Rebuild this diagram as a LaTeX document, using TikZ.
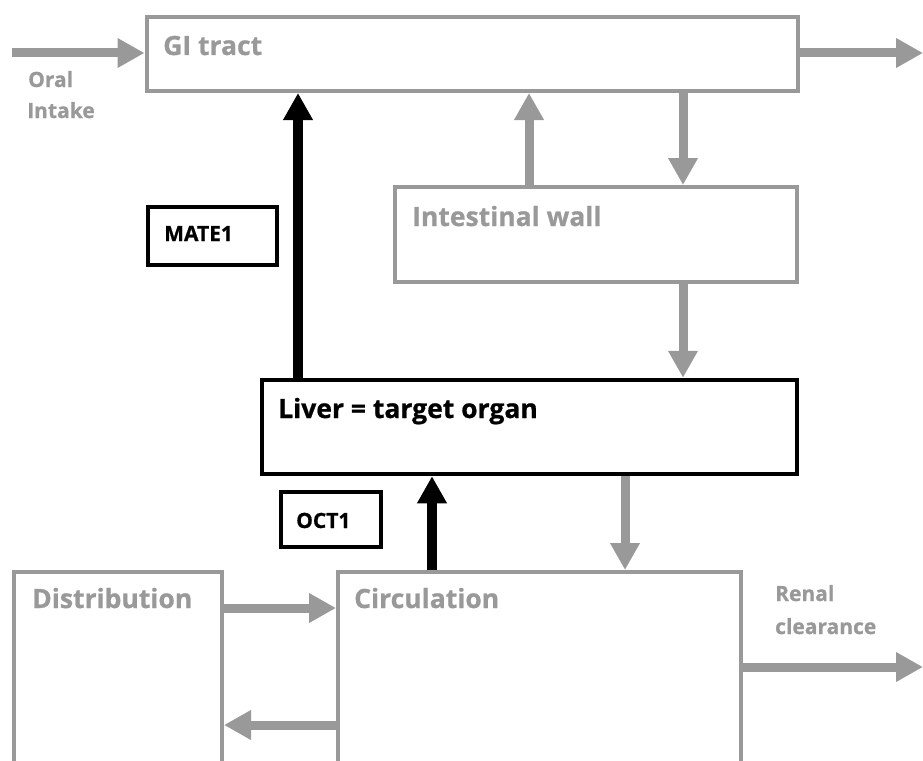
\documentclass[tikz,border=0pt]{standalone}
\usepackage{fontspec}
\setmainfont{Open Sans}[BoldFeatures={FakeBold=0.8}]
\usetikzlibrary{arrows.meta}
\definecolor{flowgray}{RGB}{153,153,153}
\tikzset{
  gbox/.style={draw=flowgray, line width=4pt, rectangle, inner sep=0pt},
  kbox/.style={draw=black, line width=4.5pt, rectangle, inner sep=0pt},
  gflow/.style={draw=flowgray, line width=9pt, -{Triangle[length=27pt,width=28pt]}},
  kflow/.style={draw=black, line width=10pt, -{Triangle[length=27pt,width=28pt]}},
  bigtxt/.style={anchor=base west, inner sep=0pt, font=\bfseries\fontsize{26.5}{30}\selectfont},
  smalltxt/.style={anchor=base west, inner sep=0pt, font=\bfseries\fontsize{21}{25}\selectfont},
}
\begin{document}
\begin{tikzpicture}[x=1pt, y=-1pt]
\useasboundingbox (0,0) rectangle (923,760);
\clip (0,0) rectangle (923,760);

% compartments
\node[gbox, minimum width=651pt, minimum height=74pt]  (gi)    at (472,54) {};
\node[gbox, minimum width=402pt, minimum height=95pt]  (wall)  at (596,234.5) {};
\node[kbox, minimum width=535pt, minimum height=94pt]  (liver) at (529.5,427) {};
\node[kbox, minimum width=129pt, minimum height=58pt]  (mate)  at (212.5,236) {};
\node[kbox, minimum width=100pt, minimum height=55pt]  (oct)   at (331,519.5) {};
\node[gbox, minimum width=208pt, minimum height=228pt] (dist)  at (118,686) {};
\node[gbox, minimum width=403pt, minimum height=228pt] (circ)  at (539.5,686) {};

% labels
\node[bigtxt, text=flowgray] (tgi)    at (163,55)  {GI tract};
\node[bigtxt, text=flowgray] (twall)  at (412,226) {Intestinal wall};
\node[bigtxt]                (tliver) at (278,418) {Liver = target organ};
\node[bigtxt, text=flowgray] (tdist)  at (32,608)  {Distribution};
\node[bigtxt, text=flowgray] (tcirc)  at (354,608) {Circulation};
\node[smalltxt]              (tmate)  at (164,241) {MATE1};
\node[smalltxt]              (toct)   at (296,528) {OCT1};
\node[smalltxt, text=flowgray] (toral)  at (28,87)   {Oral};
\node[smalltxt, text=flowgray] (tintk)  at (27,118)  {Intake};
\node[smalltxt, text=flowgray] (trenal) at (775,601) {Renal};
\node[smalltxt, text=flowgray] (tclear) at (775,634) {clearance};

% free ends and columns of the vertical flows
\coordinate (oral)  at (12,53);
\coordinate (gout)  at (923,53);
\coordinate (renal) at (923,667);
\coordinate (xup)   at (529,0);
\coordinate (xdn)   at (683,0);
\coordinate (xmate) at (298,0);
\coordinate (xoct)  at (432,0);
\coordinate (xlc)   at (625,0);
\coordinate (yin)   at (0,608);
\coordinate (yback) at (0,725);

% flows
\draw[gflow] (oral) -- (oral -| gi.west);
\draw[gflow] (gout -| gi.east) -- (gout);
\draw[gflow] (xup |- wall.north) -- (xup |- gi.south);
\draw[gflow] (xdn |- gi.south) -- (xdn |- wall.north);
\draw[gflow] (xdn |- wall.south) -- (xdn |- liver.north);
\draw[kflow] (xmate |- liver.north) -- (xmate |- gi.south);
\draw[kflow] (xoct |- circ.north) -- (xoct |- liver.south);
\draw[gflow] (xlc |- liver.south) -- (xlc |- circ.north);
\draw[gflow] (yin -| dist.east) -- (yin -| circ.west);
\draw[gflow] (yback -| circ.west) -- (yback -| dist.east);
\draw[gflow] (renal -| circ.east) -- (renal);
\end{tikzpicture}
\end{document}
